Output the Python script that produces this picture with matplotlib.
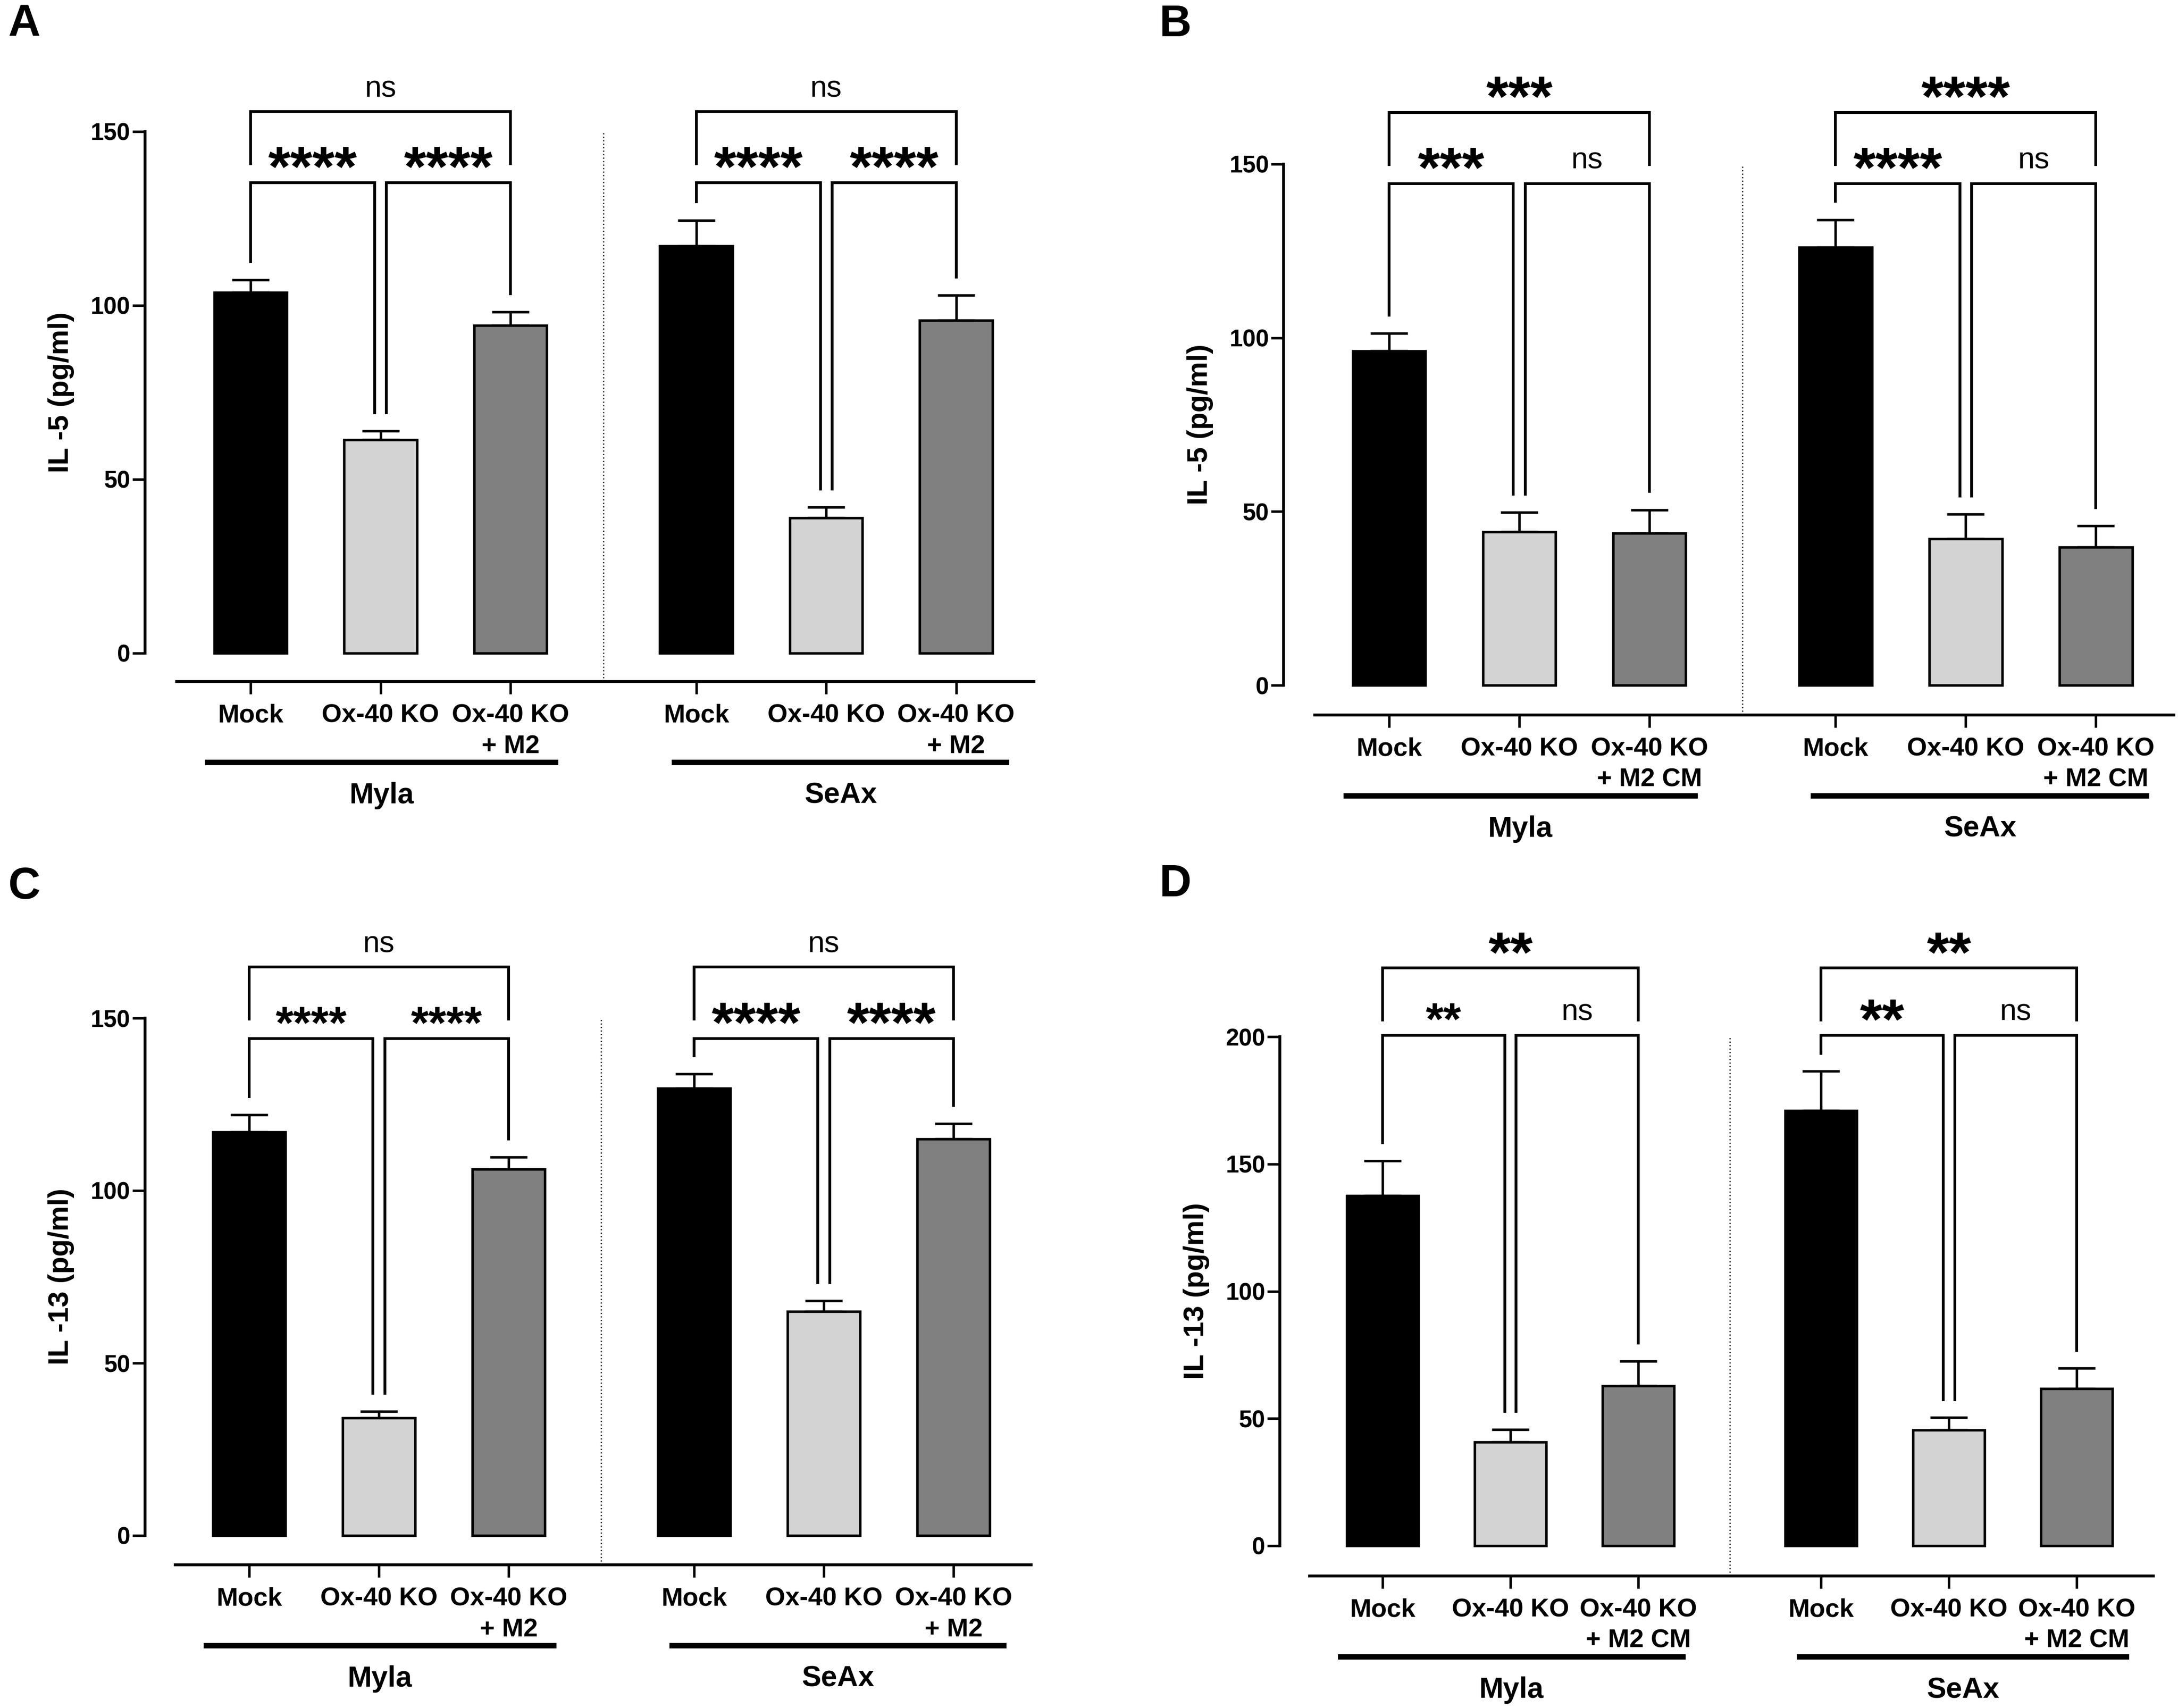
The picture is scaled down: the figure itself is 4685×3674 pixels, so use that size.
import matplotlib
matplotlib.use('Agg')
import matplotlib.pyplot as plt
import numpy as np
from matplotlib.textpath import TextPath
from matplotlib.font_manager import FontProperties

plt.rcParams['font.family'] = ['Liberation Sans', 'DejaVu Sans']

W, H, DPI = 4685, 3674, 300

# ---------------- data ----------------
groups = ['Myla', 'SeAx']
conditions_AC = ['Mock', 'Ox-40 KO', 'Ox-40 KO\n+ M2']
conditions_BD = ['Mock', 'Ox-40 KO', 'Ox-40 KO\n+ M2 CM']
bar_colors = ['#000000', '#d3d3d3', '#808080']

# order: Myla Mock, Myla KO, Myla KO+M2, SeAx Mock, SeAx KO, SeAx KO+M2
A_mean = [103.7, 61.3, 94.3, 117.1, 38.9, 95.7]
A_sem = [3.6, 2.6, 3.8, 7.4, 3.1, 7.2]
B_mean = [96.2, 44.1, 43.8, 126.0, 42.1, 39.7]
B_sem = [5.1, 5.7, 6.7, 8.0, 7.1, 6.2]
C_mean = [117.0, 34.1, 106.2, 129.7, 64.9, 114.9]
C_sem = [5.0, 1.9, 3.5, 4.1, 3.2, 4.5]
D_mean = [137.5, 40.8, 62.8, 171.0, 45.5, 61.7]
D_sem = [13.8, 4.9, 9.8, 15.5, 4.9, 8.1]

# significance: (Mock vs KO, KO vs KO+M2, Mock vs KO+M2) per group
A_sig = [['****', '****', 'ns'], ['****', '****', 'ns']]
B_sig = [['***', 'ns', '***'], ['****', 'ns', '****']]
C_sig = [['****', '****', 'ns'], ['****', '****', 'ns']]
D_sig = [['**', 'ns', '**'], ['**', 'ns', '**']]

y_labels = {'A': 'IL -5 (pg/ml)', 'B': 'IL -5 (pg/ml)',
            'C': 'IL -13 (pg/ml)', 'D': 'IL -13 (pg/ml)'}
yticks_150 = [0, 50, 100, 150]
yticks_200 = [0, 50, 100, 150, 200]

# ---------------- layout (pixels) ----------------
layout = {
    'A': dict(yaxis=312, x0=539, sp=279.5, y0=1405, ytop=283, ymax=150, xline=1466,
              inner=135.3, top=155.7, letter=(52, 52)),
    'B': dict(yaxis=2761, x0=2988, sp=280, y0=1474, ytop=353, ymax=150, xline=1538,
              inner=144.4, top=164.9, letter=(2528, 53)),
    'C': dict(yaxis=312, x0=536, sp=279, y0=3303, ytop=2190, ymax=150, xline=3366,
              inner=144.1, top=164.8, letter=(52, 1908)),
    'D': dict(yaxis=2753, x0=2974, sp=275, y0=3325, ytop=2230, ymax=200, xline=3390,
              inner=200.6, top=227.0, letter=(2528, 1903)),
}
small_ast = {('C', 0, 0), ('C', 0, 1), ('D', 0, 0)}

xpos = np.array([0, 1, 2, 3.43, 4.43, 5.43])
XR = 6.03
BARW = 0.56

# asterisk glyph metrics (ink extents, in em)
fp_b = FontProperties(family=['Liberation Sans'], weight='bold')
ext = TextPath((0, 0), '*', size=1, prop=fp_b).get_extents()
AST_INK_Y0 = ext.y0
AST_PT = 29.5
AST_PX = AST_PT * DPI / 72

fig = plt.figure(figsize=(W / DPI, H / DPI), dpi=DPI)

panels = {
    'A': (A_mean, A_sem, A_sig, conditions_AC, yticks_150),
    'B': (B_mean, B_sem, B_sig, conditions_BD, yticks_150),
    'C': (C_mean, C_sem, C_sig, conditions_AC, yticks_150),
    'D': (D_mean, D_sem, D_sig, conditions_BD, yticks_200),
}

LW = 1.45


def sig_text(ax, x, ybr, lab, s, small=False):
    if lab == 'ns':
        ax.text(x, ybr + 32 / s, lab, ha='center', va='baseline',
                fontsize=15.5, clip_on=False)
    else:
        f = 0.8 if small else 1.0
        em = AST_PX * f
        base = ybr + (32 - AST_INK_Y0 * em) / s
        ax.text(x, base, lab, ha='center', va='baseline',
                fontsize=AST_PT * f, fontweight='bold', clip_on=False)


for key, (mean, sem, sig, conds, yt) in panels.items():
    L = layout[key]
    s = (L['y0'] - L['ytop']) / L['ymax']  # px per unit
    xl = (L['yaxis'] - L['x0']) / L['sp']
    right_px = L['x0'] + XR * L['sp']
    ybot = -(L['xline'] - L['y0']) / s
    ax = fig.add_axes([L['yaxis'] / W, 1 - L['xline'] / H,
                       (right_px - L['yaxis']) / W, (L['xline'] - L['ytop']) / H])
    ax.set_xlim(xl, XR)
    ax.set_ylim(ybot, L['ymax'])
    for sp_ in ['top', 'right']:
        ax.spines[sp_].set_visible(False)
    ax.spines['left'].set_bounds(0, L['ymax'])
    ax.spines['bottom'].set_bounds(-0.57, XR)
    ax.spines['left'].set_linewidth(1.5)
    ax.spines['bottom'].set_linewidth(1.5)
    ax.patch.set_alpha(0)

    mean = np.array(mean)
    sem = np.array(sem)
    ax.bar(xpos, mean, width=BARW, color=bar_colors * 2, edgecolor='black',
           linewidth=1.3, zorder=3)
    ax.errorbar(xpos, mean, yerr=[np.zeros_like(sem), sem], fmt='none',
                ecolor='black', elinewidth=1.3, capsize=9.5, capthick=1.3, zorder=2)

    # dotted separator
    xm = (xpos[2] + xpos[3]) / 2
    ax.plot([xm, xm], [ybot, L['ymax']], ls=(0, (1, 2)), lw=0.6, color='black',
            clip_on=False)

    # ticks
    ax.set_xticks(xpos)
    ax.set_xticklabels(conds * 2, fontsize=13.3, fontweight='bold', linespacing=1.35)
    ax.tick_params(axis='x', length=6.5, width=1.3, pad=5)
    ax.set_yticks(yt)
    ax.set_yticklabels([str(v) for v in yt], fontsize=12.3, fontweight='bold')
    ax.tick_params(axis='y', length=6.5, width=1.3, pad=1)

    # group underline & names
    under_y = ybot - 174 / s
    name_y = ybot - 262 / s
    for gi, g in enumerate(groups):
        base = xpos[3 * gi]
        if gi == 0:
            a, b = -0.35, 2.37
        else:
            a, b = base - 0.19, base + 2.41
        ax.plot([a, b], [under_y, under_y], color='black', lw=2.8,
                solid_capstyle='butt', clip_on=False)
        ax.text((a + b) / 2, name_y, g, ha='center', va='baseline',
                fontsize=15, fontweight='bold', clip_on=False)

    # brackets
    off = 0.035 * L['ymax']
    inner = L['inner']
    top = L['top']
    leg_top = top - 112 / s
    tops = mean + sem
    for gi in range(2):
        i0, i1, i2 = 3 * gi, 3 * gi + 1, 3 * gi + 2
        d = 0.045
        brs = [(xpos[i0], xpos[i1] - d, tops[i0] + off, tops[i1] + off),
               (xpos[i1] + d, xpos[i2], tops[i1] + off, tops[i2] + off)]
        for bi, (xa, xb, la, lb) in enumerate(brs):
            ax.plot([xa, xa, xb, xb], [la, inner, inner, lb], color='black',
                    lw=LW, clip_on=False, solid_joinstyle='miter')
            sig_text(ax, (xa + xb) / 2, inner, sig[gi][bi], s,
                     small=(key, gi, bi) in small_ast)
        # top bracket
        xa, xb = xpos[i0], xpos[i2]
        ax.plot([xa, xa, xb, xb], [leg_top, top, top, leg_top], color='black',
                lw=LW, clip_on=False, solid_joinstyle='miter')
        sig_text(ax, (xa + xb) / 2, top, sig[gi][2], s)

    # y label
    fig.text((L['yaxis'] - 180) / W, 1 - (L['y0'] + L['ytop']) / 2 / H, y_labels[key],
             rotation=90, ha='center', va='center', fontsize=14.7, fontweight='bold')
    # panel letter
    lx, ly = L['letter']
    fig.text(lx / W, 1 - ly / H, key, ha='center', va='center', fontsize=23,
             fontweight='bold')

fig.savefig('out.png', dpi=DPI, facecolor='white')
